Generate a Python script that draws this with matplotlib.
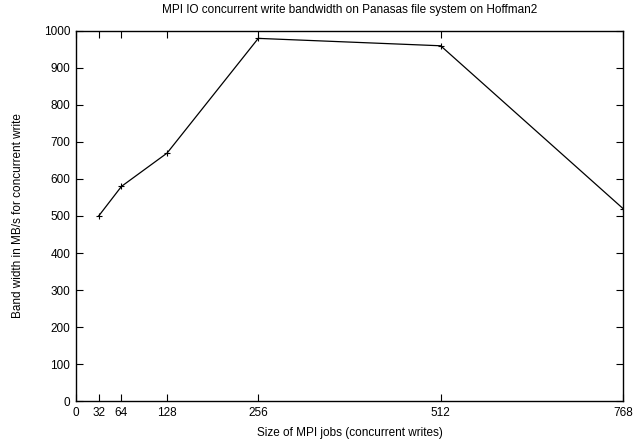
import matplotlib
matplotlib.use("Agg")
import matplotlib.pyplot as plt

# MPI job sizes and measured bandwidth (MB/s)
job_sizes = [32, 64, 128, 256, 512, 768]
bandwidth = [500, 580, 670, 980, 960, 520]

x_ticks = [0, 32, 64, 128, 256, 512, 768]
y_ticks = list(range(0, 1001, 100))

plt.rcParams['font.family'] = ['Liberation Sans', 'DejaVu Sans']
plt.rcParams['font.size'] = 8.5

fig = plt.figure(figsize=(6.43, 4.40), dpi=100)
ax = fig.add_axes([0.118, 0.0886, 0.851, 0.841])

ax.plot(job_sizes, bandwidth, color='black', linewidth=0.9,
        marker='+', markersize=5, markeredgewidth=0.8)

ax.set_xlim(0, 768)
ax.set_ylim(0, 1000)
ax.set_xticks(x_ticks)
ax.set_yticks(y_ticks)
ax.tick_params(direction='in', length=5, width=0.8, top=True, right=True,
               labelsize=8.5, pad=4)
for s in ax.spines.values():
    s.set_linewidth(1.0)

ax.set_title("MPI IO concurrent write bandwidth on Panasas file system on Hoffman2",
             fontsize=8.5, pad=13)
ax.set_xlabel("Size of MPI jobs (concurrent writes)", fontsize=8.5, labelpad=6)
ax.set_ylabel("Band width in MB/s for concurrent write", fontsize=8.5, labelpad=14)

fig.savefig("out.png", dpi=100)
